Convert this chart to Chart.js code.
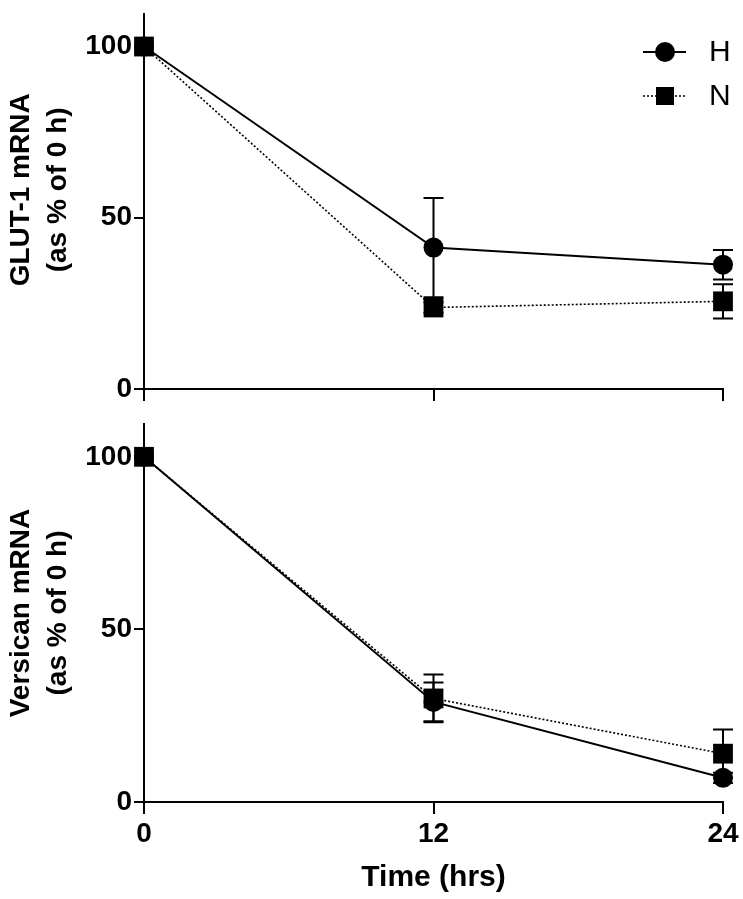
<!DOCTYPE html>
<html>
<head>
<meta charset="utf-8">
<script src="https://cdn.jsdelivr.net/npm/chart.js@4.4.0/dist/chart.umd.min.js"></script>
<style>
body { margin: 0; background: #fff; }
#wrap { position: relative; width: 743px; height: 899px; }
.box { position: absolute; left: 0; width: 743px; }
</style>
</head>
<body>
<div id="wrap">
  <div class="box" style="top:0;height:410px"><canvas id="glutChart" width="743" height="410"></canvas></div>
  <div class="box" style="top:410px;height:489px"><canvas id="versChart" width="743" height="489"></canvas></div>
</div>
<script>
// data
var hours = [0, 12, 24];
var hourTicks = [0, 12, 24];
var yTicks = [0, 50, 100];
var seriesNames = ['H', 'N'];

var glutH = [100, 41.3, 36.3];
var glutHErr = [0, 14.5, 4.3];
var glutN = [100, 23.8, 25.6];
var glutNErr = [0, 1.5, 5];

var versH = [100, 29, 7];
var versHErr = [0, 5.6, 1.5];
var versN = [100, 30, 14];
var versNErr = [0, 6.9, 7];

var FONT = "'Liberation Sans', Arial, sans-serif";
Chart.defaults.font.family = FONT;
Chart.defaults.color = '#000';

function pts(vals) {
    return hours.map(function(h, i) { return { x: h, y: vals[i] }; });
}

// error bars drawn through the chart's own scales
var errorBars = {
    id: 'errorBars',
    afterDatasetsDraw: function(chart) {
        var ctx = chart.ctx;
        var xs = chart.scales.x, ys = chart.scales.y;
        ctx.save();
        ctx.strokeStyle = '#000';
        ctx.lineWidth = 2;
        chart.data.datasets.forEach(function(ds) {
            ds.data.forEach(function(p, i) {
                var e = ds.errors[i];
                if (!e) return;
                var px = xs.getPixelForValue(p.x);
                var top = ys.getPixelForValue(p.y + e);
                var bot = ys.getPixelForValue(p.y - e);
                ctx.beginPath();
                ctx.moveTo(px, top); ctx.lineTo(px, bot);
                ctx.moveTo(px - 10, top); ctx.lineTo(px + 10, top);
                ctx.moveTo(px - 10, bot); ctx.lineTo(px + 10, bot);
                ctx.stroke();
            });
        });
        ctx.restore();
    }
};

// legend with the line running through the marker
var lineLegend = {
    id: 'lineLegend',
    afterDraw: function(chart) {
        var ctx = chart.ctx;
        ctx.save();
        chart.data.datasets.forEach(function(ds, i) {
            var y = 52 + i * 44;
            ctx.strokeStyle = '#000';
            ctx.lineWidth = ds.borderWidth;
            ctx.setLineDash(ds.borderDash || []);
            ctx.beginPath();
            ctx.moveTo(643, y); ctx.lineTo(686, y);
            ctx.stroke();
            ctx.setLineDash([]);
            ctx.fillStyle = '#000';
            if (ds.pointStyle === 'circle') {
                ctx.beginPath();
                ctx.arc(665, y, 10, 0, Math.PI * 2);
                ctx.fill();
            } else {
                ctx.fillRect(656, y - 9, 18, 18);
            }
            ctx.font = '30px ' + FONT;
            ctx.textBaseline = 'middle';
            ctx.fillText(ds.label, 709, y + 1);
        });
        ctx.restore();
    }
};

function makeDatasets(hVals, hErr, nVals, nErr) {
    return [{
        label: seriesNames[0],
        data: pts(hVals),
        errors: hErr,
        borderColor: '#000',
        backgroundColor: '#000',
        borderWidth: 2,
        pointStyle: 'circle',
        pointRadius: 10,
        pointBorderWidth: 0,
        clip: false
    }, {
        label: seriesNames[1],
        data: pts(nVals),
        errors: nErr,
        borderColor: '#000',
        backgroundColor: '#000',
        borderWidth: 1.6,
        borderDash: [2, 2],
        pointStyle: 'rect',
        pointRadius: 14,
        pointBorderWidth: 0,
        clip: false
    }];
}

function makeOptions(titleLines, showX, xHeight, padTop) {
    return {
        responsive: false,
        animation: false,
        layout: { padding: { top: padTop, right: 20, left: 0, bottom: 0 } },
        plugins: { legend: { display: false }, tooltip: { enabled: false } },
        scales: {
            x: {
                type: 'linear',
                min: 0,
                max: 24,
                afterBuildTicks: function(s) { s.ticks = hourTicks.map(function(v) { return { value: v }; }); },
                afterFit: function(s) { s.height = xHeight; s.paddingLeft = 0; s.paddingRight = 0; },
                border: { display: true, color: '#000', width: 2 },
                grid: { drawOnChartArea: false, drawTicks: true, tickLength: 12, color: '#000', lineWidth: 2 },
                ticks: { display: showX, color: '#000', padding: 3, maxRotation: 0, font: { size: 28, weight: 'bold' } },
                title: {
                    display: showX,
                    text: 'Time (hrs)',
                    color: '#000',
                    font: { size: 30, weight: 'bold' },
                    padding: { top: 0, bottom: 3 }
                }
            },
            y: {
                min: 0,
                max: 109.5,
                afterBuildTicks: function(s) { s.ticks = yTicks.map(function(v) { return { value: v }; }); },
                afterFit: function(s) { s.width = 144; s.paddingTop = 0; s.paddingBottom = 0; },
                border: { display: true, color: '#000', width: 2 },
                grid: { drawOnChartArea: false, drawTicks: true, tickLength: 10, color: '#000', lineWidth: 2 },
                ticks: { color: '#000', padding: 2, font: { size: 28, weight: 'bold' } },
                title: {
                    display: true,
                    text: titleLines,
                    color: '#000',
                    font: { size: 28, weight: 'bold', lineHeight: 1.32 },
                    padding: { top: 3, bottom: 0 }
                }
            }
        }
    };
}

new Chart(document.getElementById('glutChart').getContext('2d'), {
    type: 'line',
    data: { datasets: makeDatasets(glutH, glutHErr, glutN, glutNErr) },
    options: makeOptions(['   GLUT-1 mRNA', '   (as % of 0 h)'], false, 21, 5),
    plugins: [errorBars, lineLegend]
});

new Chart(document.getElementById('versChart').getContext('2d'), {
    type: 'line',
    data: { datasets: makeDatasets(versH, versHErr, versN, versNErr) },
    options: makeOptions(['Versican mRNA', '(as % of 0 h)'], true, 97, 8),
    plugins: [errorBars]
});
</script>
</body>
</html>
